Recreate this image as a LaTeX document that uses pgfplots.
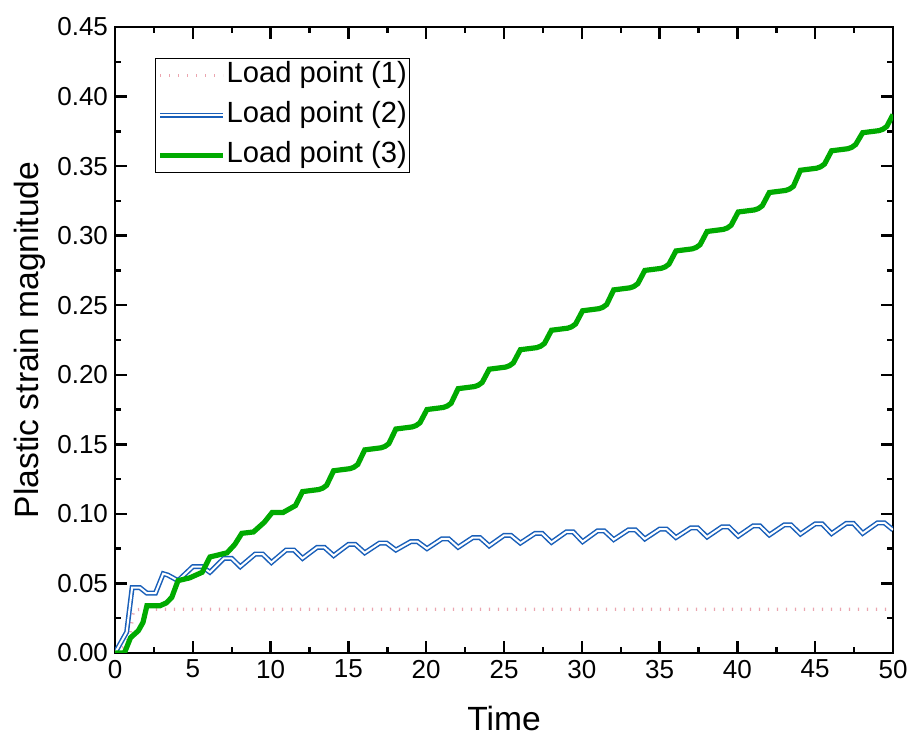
\documentclass[border=0pt]{standalone}
\usepackage{fontspec}
\setmainfont{Liberation Sans}
\usepackage{pgfplots}
\pgfplotsset{compat=1.18}
\definecolor{grn}{RGB}{0,170,0}
\definecolor{blu}{RGB}{25,95,185}
\definecolor{pnk}{RGB}{235,165,175}
\begin{document}
\begin{tikzpicture}
\begin{axis}[
  scale only axis, width=389bp, height=313bp,
  xmin=0, xmax=50, ymin=0, ymax=0.45,
  xtick={0,5,10,15,20,25,30,35,40,45,50},
  ytick={0,0.05,0.1,0.15,0.2,0.25,0.3,0.35,0.4,0.45},
  minor x tick num=1, minor y tick num=1,
  axis line style={line width=1.3bp},
  major tick length=6bp, minor tick length=3bp,
  every tick/.style={black, line width=1.2bp},
  /pgf/number format/assume math mode=true,
  tick label style={font=\fontsize{13bp}{15bp}\selectfont},
  yticklabel style={/pgf/number format/.cd, fixed, fixed zerofill, precision=2},
  xlabel={Time}, ylabel={Plastic strain magnitude},
  label style={font=\fontsize{16.8bp}{19bp}\selectfont},
  xlabel style={at={(axis description cs:0.5,-0.104)}, anchor=center},
  ylabel style={at={(axis description cs:-0.109,0.5)}, anchor=center},
  legend cell align=left,
  legend image code/.code={\draw[#1] (0bp,0bp) -- (30bp,0bp); \path (0bp,0bp) -- (31.5bp,0bp);},
  legend style={at={(axis description cs:0.0514,0.951)}, anchor=north west,
    draw=black, line width=0.5bp, inner xsep=1bp, inner ysep=1bp,
    font=\fontsize{14.6bp}{17bp}\selectfont, row sep=5.0bp,
    nodes={inner sep=0.5bp, text height=10.8bp, text depth=3.2bp}},
]
\addplot[pnk, line width=1.6bp, dash pattern=on 0.6bp off 3.9bp] coordinates {
(0,0) (0.55,0.004) (0.95,0.012) (1.2,0.031) (2,0.0315) (50,0.0315)};
\addlegendentry{Load point (1)}
\addplot[blu, line width=0.75bp, double=white, double distance=1.0bp] coordinates {
(0,0) (0.75,0.015) (1.1,0.047) (1.6,0.047) (2.05,0.043) (2.6,0.043)
(3.1,0.057) (3.4,0.056) (4.05,0.052) (5.0,0.062) (5.6,0.062) (6.1,0.058)
(7.0,0.068) (7.5,0.068) (8.05,0.062) (9.0,0.071) (9.5,0.071) (10.05,0.065)
(11.0,0.074) (11.5,0.074) (12.05,0.068)
(13.0,0.076) (13.45,0.076) (14.05,0.070)
(15.0,0.078) (15.45,0.078) (16.05,0.072)
(17.0,0.079) (17.45,0.079) (18.05,0.074)
(19.0,0.080) (19.45,0.080) (20.05,0.075)
(21.0,0.082) (21.45,0.082) (22.05,0.076)
(23.0,0.083) (23.45,0.083) (24.05,0.077)
(25.0,0.0845) (25.45,0.0845) (26.05,0.079)
(27.0,0.086) (27.45,0.086) (28.05,0.0795)
(29.0,0.087) (29.45,0.087) (30.05,0.080)
(31.0,0.0877) (31.45,0.0877) (32.05,0.0815)
(33.0,0.0885) (33.45,0.0885) (34.05,0.082)
(35.0,0.089) (35.45,0.089) (36.05,0.083)
(37.0,0.0899) (37.45,0.0899) (38.05,0.0834)
(39.0,0.0906) (39.45,0.0906) (40.05,0.084)
(41.0,0.0913) (41.45,0.0913) (42.05,0.0848)
(43.0,0.092) (43.45,0.092) (44.05,0.0855)
(45.0,0.0928) (45.45,0.0928) (46.05,0.0858)
(47.0,0.0932) (47.45,0.0932) (48.05,0.086)
(49.0,0.0935) (49.45,0.0935) (50.0,0.0885)};
\addlegendentry{Load point (2)}
\addplot[grn, line width=2.6bp] coordinates {
(0,0) (0.6,0) (0.75,0.004) (1.0,0.011) (1.5,0.016) (1.8,0.022) (2.05,0.034)
(2.9,0.034) (3.3,0.036) (3.65,0.040) (4.05,0.052) (4.8,0.054) (5.6,0.058)
(6.1,0.069) (7.2,0.072) (7.7,0.078) (8.15,0.086) (8.9,0.087) (9.6,0.094)
(10.1,0.101) (10.8,0.101) (11.6,0.106) (12.05,0.116)
(13.1,0.1175) (13.35,0.1185) (13.6,0.1205) (14.05,0.131)
(15.1,0.1325) (15.35,0.1335) (15.6,0.1355) (16.05,0.146)
(17.1,0.1475) (17.35,0.1485) (17.6,0.1505) (18.05,0.161)
(19.1,0.1625) (19.35,0.1635) (19.6,0.1655) (20.05,0.175)
(21.1,0.1765) (21.35,0.1775) (21.6,0.1795) (22.05,0.190)
(23.1,0.1915) (23.35,0.1925) (23.6,0.1945) (24.05,0.204)
(25.1,0.2055) (25.35,0.2065) (25.6,0.2085) (26.05,0.218)
(27.1,0.2195) (27.35,0.2205) (27.6,0.2225) (28.05,0.232)
(29.1,0.2335) (29.35,0.2345) (29.6,0.2365) (30.05,0.246)
(31.1,0.2475) (31.35,0.2485) (31.6,0.2505) (32.05,0.261)
(33.1,0.2625) (33.35,0.2635) (33.6,0.2655) (34.05,0.275)
(35.1,0.2765) (35.35,0.2775) (35.6,0.2795) (36.05,0.289)
(37.1,0.2905) (37.35,0.2915) (37.6,0.2935) (38.05,0.303)
(39.1,0.3045) (39.35,0.3055) (39.6,0.3075) (40.05,0.317)
(41.1,0.3185) (41.35,0.3195) (41.6,0.3215) (42.05,0.331)
(43.1,0.3325) (43.35,0.3335) (43.6,0.3355) (44.05,0.347)
(45.1,0.3485) (45.35,0.3495) (45.6,0.3515) (46.05,0.361)
(47.1,0.3625) (47.35,0.3635) (47.6,0.3655) (48.05,0.374)
(49.1,0.3755) (49.35,0.3765) (49.6,0.3785) (50.0,0.387)};
\addlegendentry{Load point (3)}
\end{axis}
\pgfresetboundingbox
\path ([shift={(-57.5bp,-42.5bp)}]current axis.south west) rectangle ([shift={(8bp,13.5bp)}]current axis.north east);
\end{tikzpicture}
\end{document}
